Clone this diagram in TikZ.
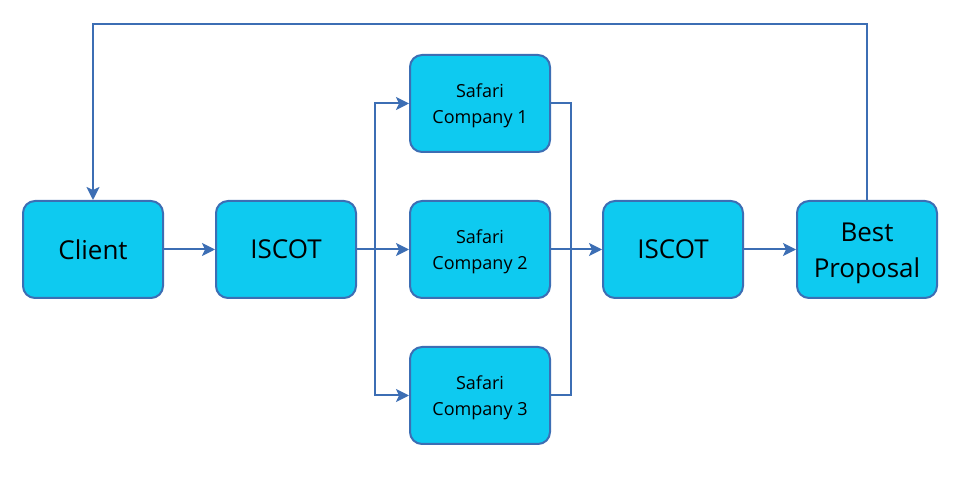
\documentclass[tikz,border=0pt]{standalone}
\usepackage{fontspec}
\setmainfont{Open Sans}
\usetikzlibrary{arrows.meta}
\definecolor{boxfill}{RGB}{14,202,240}
\definecolor{boxline}{RGB}{60,110,180}
\begin{document}
\begin{tikzpicture}[x=1pt,y=1pt,
  blk/.style={draw=boxline, fill=boxfill, line width=2pt, rounded corners=12pt,
    minimum width=140pt, minimum height=97pt, inner sep=0pt, align=center, text=black},
  bigtxt/.style={font=\fontsize{26}{36}\selectfont},
  smalltxt/.style={font=\fontsize{18}{26}\selectfont},
  txt/.style={inner sep=0pt, align=center, text=black},
  conn/.style={draw=boxline, line width=2pt},
  arr/.style={conn, -{Stealth[length=13pt,width=13pt,inset=3pt]}}]
\useasboundingbox (0,0) rectangle (960,500);
\node[blk,bigtxt] (client) at (93,250.5) {Client};
\node[blk,bigtxt] (isc1) at (286,250.5) {ISCOT};
\node[blk] (s1) at (480,396.5) {};
\node[blk] (s2) at (480,250.5) {};
\node[blk] (s3) at (480,104.5) {};
\node[blk,bigtxt] (isc2) at (673,250.5) {ISCOT};
\node[blk] (best) at (867,250.5) {};
\node[txt,smalltxt,yshift=-2pt] (t1) at (s1.center) {Safari\\Company 1};
\node[txt,smalltxt,yshift=-2pt] (t2) at (s2.center) {Safari\\Company 2};
\node[txt,smalltxt,yshift=-2pt] (t3) at (s3.center) {Safari\\Company 3};
\node[txt,bigtxt,yshift=-3.5pt] (tb) at (best.center) {Best\\Proposal};
\coordinate (top) at (480,476);
\coordinate (bL) at (375,250.5);
\coordinate (bR) at (571,250.5);
\draw[arr] (client.east) -- (isc1.west);
\draw[arr] (isc1.east) -- (s2.west);
\draw[arr] (bL) |- (s1.west);
\draw[arr] (bL) |- (s3.west);
\draw[conn] (s1.east) -| (bR);
\draw[conn] (s3.east) -| (bR);
\draw[arr] (s2.east) -- (isc2.west);
\draw[arr] (isc2.east) -- (best.west);
\draw[arr] (best.north) -- (best.north |- top) -| (client.north);
\end{tikzpicture}
\end{document}
